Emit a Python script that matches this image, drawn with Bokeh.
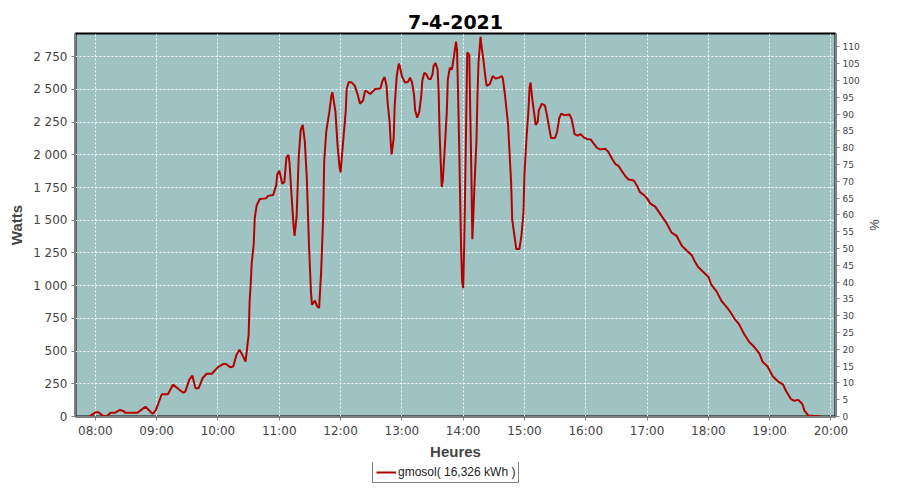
from bokeh.plotting import figure
from bokeh.layouts import column
from bokeh.models import (Range1d, LinearAxis, FixedTicker, Legend, LegendItem,
                          ColumnDataSource)
from bokeh.embed import file_html
from bokeh.resources import INLINE

title_text = "7-4-2021"
series_name = "gmosol( 16,326 kWh )"

times = ["07:54", "08:00", "08:03", "08:08", "08:11", "08:15", "08:19", "08:24", "08:28", "08:29",
         "08:41", "08:49", "08:52", "08:56", "08:59", "09:02", "09:05", "09:08", "09:11", "09:16",
         "09:21", "09:26", "09:28", "09:32", "09:35", "09:38", "09:41", "09:45", "09:49", "09:54",
         "10:00", "10:05", "10:08", "10:12", "10:15", "10:18", "10:21", "10:24", "10:27", "10:30",
         "10:31", "10:32", "10:33", "10:35", "10:36", "10:38", "10:41", "10:47", "10:49", "10:54",
         "10:57", "10:58", "11:00", "11:03", "11:05", "11:07", "11:09", "11:10", "11:12", "11:14",
         "11:15", "11:17", "11:19", "11:21", "11:23", "11:25", "11:27", "11:29", "11:31", "11:32",
         "11:35", "11:37", "11:39", "11:41", "11:43", "11:44", "11:46", "11:49", "11:51", "11:52",
         "11:55", "11:57", "11:59", "12:00", "12:02", "12:05", "12:06", "12:08", "12:11", "12:14",
         "12:17", "12:19", "12:22", "12:24", "12:26", "12:29", "12:34", "12:39", "12:41", "12:43",
         "12:45", "12:46", "12:48", "12:49", "12:50", "12:52", "12:53", "12:55", "12:57", "12:58",
         "13:00", "13:03", "13:06", "13:08", "13:10", "13:12", "13:13", "13:15", "13:17", "13:19",
         "13:20", "13:22", "13:24", "13:26", "13:28", "13:30", "13:31", "13:33", "13:35", "13:36",
         "13:37", "13:38", "13:39", "13:40", "13:42", "13:44", "13:45", "13:47", "13:49", "13:51",
         "13:53", "13:54", "13:55", "13:56", "13:57", "13:58", "13:59", "14:00", "14:01", "14:02",
         "14:03", "14:04", "14:06", "14:07", "14:08", "14:09", "14:10", "14:11", "14:13", "14:14",
         "14:15", "14:17", "14:18", "14:20", "14:22", "14:23", "14:26", "14:29", "14:32", "14:35",
         "14:38", "14:39", "14:41", "14:44", "14:45", "14:47", "14:48", "14:50", "14:52", "14:55",
         "14:57", "14:59", "15:00", "15:02", "15:04", "15:05", "15:06", "15:08", "15:10", "15:11",
         "15:13", "15:14", "15:17", "15:20", "15:22", "15:24", "15:26", "15:30", "15:32", "15:34",
         "15:36", "15:39", "15:44", "15:46", "15:48", "15:49", "15:52", "15:55", "15:58", "16:01",
         "16:05", "16:08", "16:11", "16:14", "16:19", "16:22", "16:26", "16:29", "16:32", "16:35",
         "16:39", "16:42", "16:47", "16:50", "16:53", "16:57", "17:00", "17:03", "17:08", "17:14",
         "17:19", "17:24", "17:29", "17:34", "17:39", "17:44", "17:47", "17:50", "17:55", "18:00",
         "18:03", "18:08", "18:13", "18:18", "18:22", "18:26", "18:30", "18:35", "18:40", "18:45",
         "18:50", "18:53", "18:58", "19:03", "19:08", "19:13", "19:16", "19:21", "19:24", "19:28",
         "19:32", "19:34", "19:38", "19:50"]

watts = [0, 32, 32, 2, 2, 28, 28, 50, 40, 28,
         28, 75, 52, 20, 45, 107, 170, 170, 170, 245,
         212, 182, 190, 282, 312, 215, 215, 294, 327, 327,
         377, 401, 401, 377, 382, 469, 511, 469, 419, 620,
         880, 1005, 1168, 1317, 1517, 1617, 1662, 1667, 1686, 1692,
         1766, 1849, 1879, 1779, 1791, 1978, 1999, 1941, 1692, 1455,
         1380, 1529, 1978, 2190, 2228, 2103, 1816, 1330, 956, 855,
         885, 843, 830, 1105, 1529, 1953, 2178, 2328, 2453, 2478,
         2328, 2078, 1904, 1866, 2053, 2328, 2503, 2557, 2552, 2527,
         2453, 2390, 2415, 2490, 2482, 2465, 2503, 2507, 2565, 2595,
         2527, 2403, 2253, 2103, 2003, 2128, 2378, 2602, 2697, 2677,
         2602, 2552, 2557, 2590, 2552, 2453, 2340, 2283, 2328, 2453,
         2565, 2627, 2615, 2582, 2577, 2615, 2677, 2702, 2652, 2478,
         2153, 1953, 1754, 1800, 2053, 2328, 2577, 2665, 2652, 2752,
         2864, 2802, 2478, 2103, 1679, 1280, 1031, 981, 1305, 1779,
         2278, 2782, 2765, 2303, 1879, 1355, 1542, 1754, 2103, 2453,
         2702, 2902, 2827, 2715, 2577, 2527, 2540, 2602, 2582, 2590,
         2602, 2577, 2453, 2228, 2078, 1779, 1504, 1392, 1280, 1280,
         1380, 1554, 1854, 2128, 2353, 2515, 2552, 2403, 2290, 2228,
         2253, 2340, 2390, 2378, 2303, 2215, 2128, 2128, 2178, 2278,
         2315, 2303, 2308, 2278, 2203, 2158, 2146, 2158, 2133, 2121,
         2116, 2083, 2053, 2041, 2046, 2023, 1966, 1929, 1916, 1879,
         1834, 1811, 1804, 1766, 1716, 1692, 1667, 1629, 1604, 1535,
         1479, 1405, 1380, 1305, 1267, 1230, 1180, 1142, 1105, 1068,
         1005, 956, 881, 836, 793, 743, 706, 631, 569, 531,
         481, 419, 382, 307, 269, 245, 195, 132, 120, 127,
         95, 45, 7, 0]

x_tick_hours = [8, 9, 10, 11, 12, 13, 14, 15, 16, 17, 18, 19, 20]
x_tick_labels = ["08:00", "09:00", "10:00", "11:00", "12:00", "13:00", "14:00",
                 "15:00", "16:00", "17:00", "18:00", "19:00", "20:00"]
w_ticks = [0, 250, 500, 750, 1000, 1250, 1500, 1750, 2000, 2250, 2500, 2750]
w_tick_labels = ["0", "250", "500", "750", "1 000", "1 250", "1 500", "1 750",
                 "2 000", "2 250", "2 500", "2 750"]
pct_ticks = [0, 5, 10, 15, 20, 25, 30, 35, 40, 45, 50, 55, 60, 65, 70, 75, 80,
             85, 90, 95, 100, 105, 110]

hours = [int(t[:2]) + int(t[3:]) / 60.0 for t in times]
src = ColumnDataSource(dict(x=hours, y=watts))

LINE_COLOR = "#b40000"

p = figure(width=884, height=462, output_backend="svg", toolbar_location=None,
           x_range=Range1d(7.676, 20.074), y_range=Range1d(0, 2927),
           min_border_left=75, min_border_right=44, min_border_top=33,
           min_border_bottom=40)
p.extra_y_ranges = {"pct": Range1d(0, 114)}

p.background_fill_color = "#9ec3c2"
p.border_fill_color = "white"
p.outline_line_color = "black"
p.outline_line_width = 2

p.title.text = title_text
p.title.align = "center"
p.title.text_font = "DejaVu Sans"
p.title.text_font_size = "19px"
p.title.text_font_style = "bold"
p.title.text_color = "black"
p.title.standoff = 9

FONT = "DejaVu Sans"
TXT = "#444444"

xa = p.xaxis[0]
xa.ticker = FixedTicker(ticks=x_tick_hours)
xa.major_label_overrides = {h: l for h, l in zip(x_tick_hours, x_tick_labels)}
xa.axis_label = "Heures"

ya = p.yaxis[0]
ya.ticker = FixedTicker(ticks=w_ticks)
ya.major_label_overrides = {t: l for t, l in zip(w_ticks, w_tick_labels)}
ya.axis_label = "Watts"

ra = LinearAxis(y_range_name="pct", ticker=FixedTicker(ticks=pct_ticks), axis_label="%")
p.add_layout(ra, "right")

for ax in [xa, ya, ra]:
    ax.axis_line_color = "#808080"
    ax.major_tick_line_color = "#808080"
    ax.minor_tick_line_color = None
    ax.major_tick_out = 4
    ax.major_tick_in = 0
    ax.major_label_text_font = FONT
    ax.major_label_text_font_size = "12px"
    ax.major_label_text_color = TXT
    ax.major_label_standoff = 4
    ax.axis_label_text_font = "Liberation Sans"
    ax.axis_label_text_font_size = "15px"
    ax.axis_label_text_font_style = "bold"
    ax.axis_label_text_color = TXT
    ax.axis_label_standoff = 5
ra.major_label_text_font_size = "9px"
ra.major_label_standoff = 3
ra.axis_label_text_font_style = "normal"
ra.axis_label_text_font_size = "13px"
ra.axis_label_standoff = 4
xa.major_label_standoff = 3
xa.axis_label_standoff = 2

for g in [p.xgrid[0], p.ygrid[0]]:
    g.grid_line_color = "white"
    g.grid_line_dash = "2 2"
    g.grid_line_width = 1

r = p.line("x", "y", source=src, line_color=LINE_COLOR, line_width=2)

# legend strip below the chart (its frame is aligned with the chart frame)
p2 = figure(width=884, height=22, output_backend="svg", toolbar_location=None,
            x_range=Range1d(0, 1), y_range=Range1d(0, 1),
            x_axis_location=None, y_axis_location=None, min_border=0)
p2.grid.visible = False
p2.outline_line_color = None
p2.background_fill_color = "white"
p2.border_fill_color = "white"
# proxy line lying outside the strip's ranges: only its legend swatch shows
r2 = p2.line(x=[5, 6], y=[5, 6], line_color=LINE_COLOR, line_width=2)

legend = Legend(items=[LegendItem(label=series_name, renderers=[r2])],
                location=(297, 1), orientation="horizontal")
legend.border_line_color = "black"
legend.border_line_width = 1
legend.background_fill_color = "white"
legend.background_fill_alpha = 1.0
legend.label_text_font = "Liberation Sans"
legend.label_text_font_size = "12px"
legend.label_text_color = "#222222"
legend.glyph_width = 20
legend.glyph_height = 12
legend.label_height = 12
legend.label_standoff = 2
legend.padding = 3
legend.spacing = 0
legend.margin = 0
p2.add_layout(legend, "center")

layout = column(p, p2, spacing=0)
open("out.html", "w").write(file_html(layout, INLINE))
